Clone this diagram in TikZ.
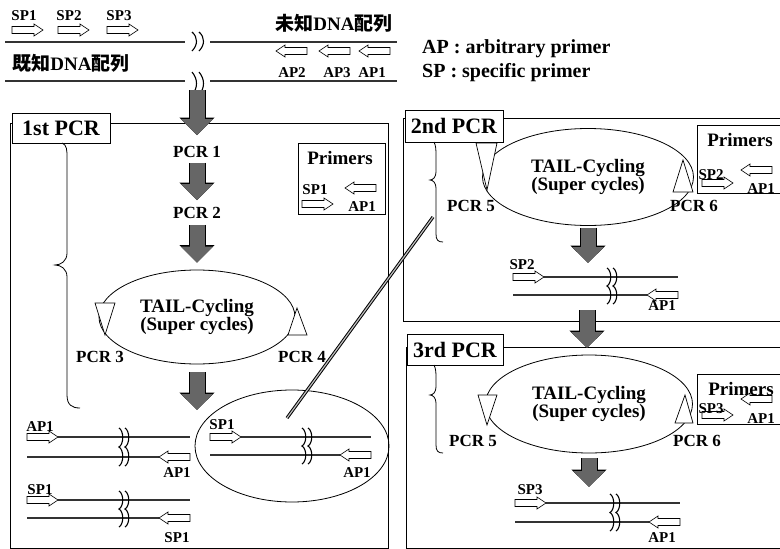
\documentclass[tikz,border=0pt]{standalone}
\usepackage{fontspec}
\setmainfont{Liberation Serif}
\newfontfamily\jpfont{Noto Sans CJK JP}
\usetikzlibrary{arrows.meta,shapes.geometric}

\tikzset{
  lbl/.style={font=\bfseries\fontsize{15}{15}\selectfont, inner sep=0pt},
  pcrlbl/.style={font=\bfseries\fontsize{17}{17}\selectfont, inner sep=0pt},
  prim/.style={font=\bfseries\fontsize{19}{19}\selectfont, inner sep=0pt},
  leg/.style={font=\bfseries\fontsize{20}{20}\selectfont, inner sep=0pt},
  jplbl/.style={font=\bfseries\fontsize{19}{19}\selectfont, inner sep=0pt},
  cyc/.style={draw, ellipse, line width=0.8pt, align=center, inner sep=0pt,
    font=\bfseries\fontsize{19}{18}\selectfont},
  boxlbl/.style={draw, fill=white, line width=0.8pt, inner sep=0pt,
    minimum width=98pt, minimum height=30pt, font=\bfseries\fontsize{22}{22}\selectfont},
  pcrframe/.style={line width=0.8pt},
  bracepath/.style={line width=0.8pt},
  tri/.style={draw, fill=white, line width=0.7pt},
  dna/.style={line width=1.8pt, black!80},
  strand/.style={line width=1.3pt, black!80},
  brkline/.style={line width=1.1pt},
  primer/.style={draw, fill=white, line width=0.6pt},
  zoomline/.style={line width=1pt, double=gray!50, double distance=1.2pt},
  fatarrow/.style={draw=black!60, line width=15pt, -{Triangle[width=31pt,length=16pt]},
    preaction={draw=black, line width=17pt, -{Triangle[width=34pt,length=17.5pt]}}}
}

% hollow primer arrows, #1 = tail x, #2 = y
\newcommand{\primerR}[2]{\draw[primer] (#1,#2) ++(0,-3.5) -- ++(22,0) -- ++(0,-2.5) -- ++(9,6) -- ++(-9,6) -- ++(0,-2.5) -- ++(-22,0) -- cycle;}
\newcommand{\primerL}[2]{\draw[primer] (#1,#2) ++(0,-3.5) -- ++(-22,0) -- ++(0,-2.5) -- ++(-9,6) -- ++(9,6) -- ++(0,-2.5) -- ++(22,0) -- cycle;}
% break mark over two strands
\newcommand{\brk}[3]{%
  \foreach \dx in {0,6}{%
    \draw[brkline] (#1+\dx,#2-9) .. controls +(5,3) and +(5,-3) .. (#1+\dx,#2/2+#3/2) .. controls +(5,3) and +(5,-3) .. (#1+\dx,#3+9);}}
% double strand with primers: x left, x right, y upper, y lower, x break
\newcommand{\dsDNA}[5]{%
  \draw[strand] (#1+31,#3) -- (#2,#3);
  \draw[strand] (#1,#4) -- (#2-31,#4);
  \brk{#5}{#3}{#4}
  \primerR{#1}{#3}
  \primerL{#2}{#4}}

\begin{document}
\begin{tikzpicture}[x=1pt,y=-1pt]
  \useasboundingbox (0,0) rectangle (780,549);
  \clip (0,0) rectangle (780,549);

  % known / unknown sequence
  \draw[dna] (5,42) -- (185,42);
  \draw[dna] (210,42) -- (397,42);
  \draw[dna] (5,81) -- (185,81);
  \draw[dna] (210,81) -- (397,81);
  \foreach \dx in {0,7}{
    \draw[brkline] (192+\dx,32) .. controls (198+\dx,37) and (198+\dx,45) .. (192+\dx,51);
    \draw[brkline] (192+\dx,72) .. controls (198+\dx,79) and (198+\dx,88) .. (192+\dx,95);
  }
  \node[jplbl] (unknown) at (334,23) {{\jpfont 未知}DNA{\jpfont 配列}};
  \node[jplbl] (known) at (71,63) {{\jpfont 既知}DNA{\jpfont 配列}};
  \primerR{12}{30} \primerR{58}{30} \primerR{107}{30}
  \primerL{307}{51} \primerL{350}{51} \primerL{390}{51}
  \node[lbl] (sp1) at (24,16) {SP1};
  \node[lbl] (sp2) at (69,16) {SP2};
  \node[lbl] (sp3) at (119,16) {SP3};
  \node[lbl] (ap2) at (292,73) {AP2};
  \node[lbl] (ap3) at (337,73) {AP3};
  \node[lbl] (ap1) at (372,73) {AP1};
  % legend
  \node[leg, anchor=west] (legap) at (422,49) {AP : arbitrary primer};
  \node[leg, anchor=west] (legsp) at (422,73) {SP : specific primer};

  % 1st PCR
  \draw[pcrframe] (10,123) rectangle (388,548);
  \node[boxlbl] (first) at (61,128) {1st PCR};
  \draw[bracepath] (62,143) .. controls (67,145) and (67,150) .. (67,158) -- (67,253)
    .. controls (67,261) and (61,265) .. (55,265) .. controls (61,265) and (67,269) .. (67,277)
    -- (67,395) .. controls (67,405) and (72,408) .. (80,408);
  \node[pcrlbl] (pcrA) at (197,152) {PCR 1};
  \node[pcrlbl] (pcrB) at (197,213) {PCR 2};
  \node[cyc, minimum width=196pt, minimum height=94pt] (cycA) at (197,317) {TAIL-Cycling\\(Super cycles)};
  \draw[tri] (95,303) -- (115,303) -- (105,335) -- cycle;
  \draw[tri] (297,308) -- (307,335) -- (288,335) -- cycle;
  \node[pcrlbl] (pcrC) at (100,357) {PCR 3};
  \node[pcrlbl] (pcrD) at (302,357) {PCR 4};
  \draw[pcrframe, fill=white] (298,143) rectangle (385,214);
  \node[prim] (primA) at (340,158) {Primers};
  \primerR{302}{204} \primerL{376}{188}
  \node[lbl] (primAsp) at (315,190) {SP1};
  \node[lbl] (primAap) at (362,207) {AP1};
  % products
  \dsDNA{27}{190}{437}{457}{119}
  \node[lbl] (prodAap1) at (40,427) {AP1};
  \node[lbl] (prodAap2) at (177,473) {AP1};
  \dsDNA{27}{190}{500}{518}{119}
  \node[lbl] (prodAsp1) at (40,490) {SP1};
  \node[lbl] (prodAsp2) at (177,538) {SP1};
  \node[draw, ellipse, line width=0.8pt, minimum width=194pt, minimum height=112pt] (pick) at (292,446) {};
  \dsDNA{210}{371}{437}{455}{302}
  \node[lbl] (pickSp) at (222,425) {SP1};
  \node[lbl] (pickAp) at (357,473) {AP1};

  % 2nd PCR
  \draw[pcrframe] (403,118) rectangle (790,321);
  \node[boxlbl, minimum height=32pt] (second) at (454,126) {2nd PCR};
  \draw[bracepath] (434,142) .. controls (436,146) and (436,150) .. (436,156) -- (436,172)
    .. controls (436,177) and (433,180) .. (430,180) .. controls (433,180) and (436,183) .. (436,188)
    -- (436,234) .. controls (436,240) and (438,242) .. (443,242);
  \node[cyc, minimum width=211pt, minimum height=97pt] (cycB) at (588,177) {TAIL-Cycling\\(Super cycles)};
  \draw[tri] (476,143) -- (497,143) -- (487,190) -- cycle;
  \draw[tri] (683,160) -- (693,192) -- (673,192) -- cycle;
  \node[pcrlbl] (pcrE) at (471,206) {PCR 5};
  \node[pcrlbl] (pcrF) at (694,206) {PCR 6};
  \draw[pcrframe, fill=white] (697,125) rectangle (790,193);
  \node[prim] (primB) at (740,140) {Primers};
  \primerR{702}{183} \primerL{772}{170}
  \node[lbl] (primBsp) at (711,175) {SP2};
  \node[lbl] (primBap) at (761,189) {AP1};
  \dsDNA{513}{678}{277}{295}{607}
  \node[lbl] (prodBsp) at (522,265) {SP2};
  \node[lbl] (prodBap) at (662,306) {AP1};

  % 3rd PCR
  \draw[pcrframe] (406,347) rectangle (790,548);
  \node[boxlbl, minimum width=96pt, minimum height=31pt] (third) at (455,350) {3rd PCR};
  \draw[bracepath] (434,365) .. controls (436,369) and (436,373) .. (436,378) -- (436,387)
    .. controls (436,392) and (433,395) .. (430,395) .. controls (433,395) and (436,398) .. (436,403)
    -- (436,445) .. controls (436,451) and (438,453) .. (443,453);
  \node[cyc, minimum width=207pt, minimum height=98pt] (cycC) at (589,404) {TAIL-Cycling\\(Super cycles)};
  \draw[tri] (478,395) -- (497,395) -- (487,425) -- cycle;
  \draw[tri] (685,395) -- (693,423) -- (675,423) -- cycle;
  \node[pcrlbl] (pcrG) at (473,441) {PCR 5};
  \node[pcrlbl] (pcrH) at (697,441) {PCR 6};
  \draw[pcrframe, fill=white] (697,374) rectangle (790,424);
  \node[prim] (primC) at (741,389) {Primers};
  \primerR{702}{415} \primerL{772}{399}
  \node[lbl] (primCsp) at (711,409) {SP3};
  \node[lbl] (primCap) at (761,419) {AP1};
  \dsDNA{515}{680}{503}{522}{610}
  \node[lbl] (prodCsp) at (530,490) {SP3};
  \node[lbl] (prodCap) at (662,538) {AP1};

  % zoom line
  \coordinate (zoomfrom) at (287,418);
  \coordinate (zoomto) at (433,217);
  \draw[zoomline] (zoomfrom) -- (zoomto);

  % big arrows
  \coordinate (topout) at (197,90);
  \coordinate (prodA) at (197,410);
  \coordinate (prodB) at (588,263);
  \coordinate (linkout) at (587,310);
  \coordinate (linkin) at (587,348);
  \coordinate (prodC) at (589,487);
  \draw[fatarrow] (topout) -- ([yshift=11pt]pcrA.north);
  \draw[fatarrow] ([yshift=-5pt]pcrA.south) -- ([yshift=7pt]pcrB.north);
  \draw[fatarrow] ([yshift=-6pt]pcrB.south) -- ([yshift=7pt]cycA.north);
  \draw[fatarrow] ([yshift=-8pt]cycA.south) -- (prodA);
  \draw[fatarrow] ([yshift=-2pt]cycB.south) -- (prodB);
  \draw[fatarrow] (linkout) -- (linkin);
  \draw[fatarrow] ([yshift=-5pt]cycC.south) -- (prodC);
\end{tikzpicture}
\end{document}
